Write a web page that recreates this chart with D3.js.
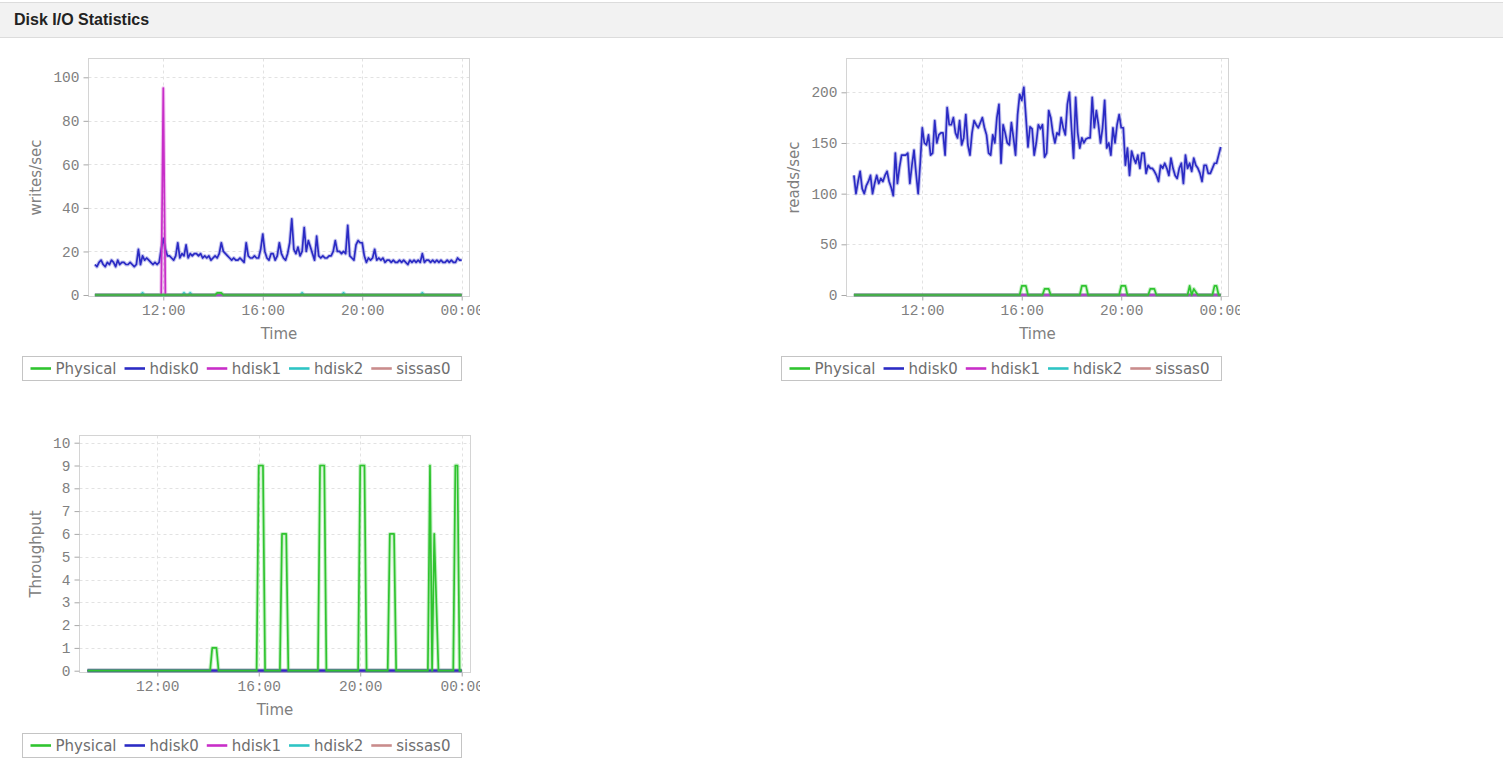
<!DOCTYPE html>
<html>
<head>
<meta charset="utf-8">
<title>Disk I/O Statistics</title>
<script src="https://cdn.jsdelivr.net/npm/d3@7"></script>
<style>
  body { margin: 0; background: #fff; }
  svg { display: block; }
</style>
</head>
<body>
<svg id="page" width="1503" height="775"></svg>
<script>
"use strict";

// samples every 5 minutes from 09:15 until midnight
const startTime = "09:15";
const stepMinutes = 5;
const seriesNames = ["Physical", "hdisk0", "hdisk1", "hdisk2", "sissas0"];
const timeTicks = ["12:00", "16:00", "20:00", "00:00"];

const writesTicks = [0, 20, 40, 60, 80, 100];
const readsTicks = [0, 50, 100, 150, 200];
const throughputTicks = [0, 1, 2, 3, 4, 5, 6, 7, 8, 9, 10];

// writes/sec, hdisk0 (one row per hour)
const writesHdisk0 = [
  14, 13, 15, 16, 14, 13, 15, 14, 16,
  15, 13, 16, 14, 15, 15, 14, 14, 15, 14, 13, 14,
  21, 14, 18, 16, 17, 16, 15, 14, 15, 14, 15, 21,
  26, 21, 18, 18, 17, 16, 18, 24, 17, 19, 18, 23,
  17, 19, 18, 19, 19, 18, 19, 17, 18, 17, 18, 16,
  17, 18, 17, 19, 24, 20, 19, 18, 17, 16, 17, 16,
  16, 17, 16, 15, 24, 18, 17, 17, 18, 17, 17, 21,
  28, 20, 17, 16, 19, 19, 16, 18, 24, 19, 17, 16,
  19, 24, 35, 21, 19, 22, 18, 20, 31, 20, 25, 22,
  19, 16, 27, 18, 17, 18, 17, 17, 18, 18, 20, 25,
  20, 20, 19, 20, 19, 32, 18, 17, 16, 23, 25, 24,
  24, 18, 15, 17, 16, 17, 21, 16, 17, 16, 17, 15,
  16, 16, 15, 16, 15, 15, 16, 15, 16, 15, 14, 16,
  15, 16, 15, 16, 15, 19, 15, 16, 16, 15, 16, 15,
  16, 15, 16, 15, 15, 16, 15, 16, 15, 15, 17, 16, 16
];
// sparse series: [time, value], every other sample is 0
const writesPhysical = [["14:10", 1], ["14:15", 1], ["14:20", 1]];
const writesHdisk1 = [["12:00", 95]];
const writesHdisk2 = [["11:10", 1], ["12:50", 1], ["13:05", 1], ["17:35", 1], ["19:15", 1], ["22:25", 1]];

// reads/sec, hdisk0
const readsHdisk0 = [
  118, 100, 112, 122, 105, 100, 108, 112, 118,
  100, 110, 118, 110, 115, 112, 118, 122, 112, 106, 98, 140,
  110, 126, 138, 138, 138, 140, 110, 128, 143, 120, 100, 130,
  165, 150, 148, 158, 138, 140, 172, 150, 158, 160, 160, 138,
  185, 168, 168, 175, 160, 155, 172, 148, 155, 178, 148, 138,
  160, 172, 168, 165, 170, 175, 165, 158, 140, 138, 158, 150,
  175, 188, 130, 168, 160, 150, 148, 170, 155, 138, 178, 198,
  192, 205, 176, 146, 166, 164, 138, 150, 168, 164, 168, 136,
  140, 182, 175, 160, 150, 160, 158, 175, 165, 158, 188, 200,
  165, 135, 195, 160, 145, 155, 150, 154, 155, 155, 195, 165,
  182, 168, 150, 165, 192, 145, 150, 138, 165, 150, 168, 178,
  165, 165, 128, 145, 118, 142, 135, 130, 138, 125, 140, 140,
  120, 128, 125, 125, 122, 118, 112, 128, 125, 130, 125, 118,
  135, 125, 118, 115, 125, 130, 110, 138, 125, 130, 122, 135,
  128, 125, 120, 112, 128, 128, 120, 120, 125, 130, 130, 138, 146
];
const readsPhysical = [
  ["16:00", 9], ["16:05", 9], ["16:10", 9],
  ["16:55", 6], ["17:00", 6], ["17:05", 6],
  ["18:25", 9], ["18:30", 9], ["18:35", 9],
  ["20:00", 9], ["20:05", 9], ["20:10", 9],
  ["21:10", 6], ["21:15", 6], ["21:20", 6],
  ["22:45", 9], ["22:55", 6], ["23:00", 3],
  ["23:45", 9], ["23:50", 9]
];

// Throughput, Physical
const throughputPhysical = [
  ["14:10", 1], ["14:15", 1], ["14:20", 1],
  ["16:00", 9], ["16:05", 9], ["16:10", 9],
  ["16:55", 6], ["17:00", 6], ["17:05", 6],
  ["18:25", 9], ["18:30", 9], ["18:35", 9],
  ["20:00", 9], ["20:05", 9], ["20:10", 9],
  ["21:10", 6], ["21:15", 6], ["21:20", 6],
  ["22:45", 9], ["22:55", 6], ["23:00", 3],
  ["23:45", 9], ["23:50", 9]
];

// ---- styles ----
const colors = {
  Physical: "#2fc42f",
  hdisk0: "#2b2bc4",
  hdisk1: "#c82ec8",
  hdisk2: "#2ec4c4",
  sissas0: "#c98c8c"
};
const tickFont = "'Liberation Mono', monospace";
const textFont = "'DejaVu Sans', sans-serif";

// ---- time helpers ----
const parseHM = d3.timeParse("%H:%M");
const t0 = parseHM(startTime);
function timeOf(hm) {
  let t = parseHM(hm);
  if (t < t0) t = d3.timeDay.offset(t, 1);
  return t;
}
const times = readsHdisk0.map((d, i) => d3.timeMinute.offset(t0, i * stepMinutes));
function expand(pairs) {
  const v = times.map(() => 0);
  pairs.forEach(([hm, val]) => {
    v[Math.round((timeOf(hm) - t0) / (stepMinutes * 60000))] = val;
  });
  return v;
}

const charts = [
  {
    yTitle: "writes/sec", ticks: writesTicks,
    series: { Physical: expand(writesPhysical), hdisk0: writesHdisk0, hdisk1: expand(writesHdisk1), hdisk2: expand(writesHdisk2), sissas0: expand([]) },
    order: ["sissas0", "hdisk2", "hdisk0", "hdisk1", "Physical"],
    box: { left: 88.5, right: 469.5, top: 58.5, bottom: 296.5 },
    xRange: [94.9, 461.7], yRange: [295, 77.3], clip: [20, 480],
    yTitleX: 41, legend: { x: 22.5, y: 356.5, w: 439, h: 24 }
  },
  {
    yTitle: "reads/sec", ticks: readsTicks,
    series: { Physical: expand(readsPhysical), hdisk0: readsHdisk0, hdisk1: expand([]), hdisk2: expand([]), sissas0: expand([]) },
    order: ["sissas0", "hdisk2", "hdisk0", "hdisk1", "Physical"],
    box: { left: 846.5, right: 1228.5, top: 58.5, bottom: 296.5 },
    xRange: [853.9, 1220.7], yRange: [295, 92.3], clip: [780, 1240],
    yTitleX: 799, legend: { x: 781.5, y: 356.5, w: 440, h: 24 }
  },
  {
    yTitle: "Throughput", ticks: throughputTicks,
    series: { Physical: expand(throughputPhysical), hdisk0: expand([]), hdisk1: expand([]), hdisk2: expand([]), sissas0: expand([]) },
    order: ["sissas0", "hdisk2", "hdisk1", "hdisk0", "Physical"],
    box: { left: 79.5, right: 470.5, top: 435.5, bottom: 672.5 },
    xRange: [87.5, 461.7], yRange: [670.7, 442.7], clip: [20, 480],
    yTitleX: 41, legend: { x: 22.5, y: 733.5, w: 439, h: 24 }
  }
];

const svg = d3.select("#page");
const defs = svg.append("defs");

// header band
svg.append("rect")
  .attr("x", -1).attr("y", 2.5).attr("width", 1505).attr("height", 35)
  .attr("fill", "#f2f2f2").attr("stroke", "#dcdcdc");
svg.append("text")
  .attr("x", 14).attr("y", 25)
  .attr("font-family", "'Liberation Sans', Arial, sans-serif")
  .attr("font-size", 16).attr("font-weight", "bold").attr("fill", "#222")
  .text("Disk I/O Statistics");

charts.forEach((c, ci) => {
  const b = c.box;

  defs.append("clipPath").attr("id", "clip" + ci)
    .append("rect")
    .attr("x", c.clip[0]).attr("y", b.top - 20)
    .attr("width", c.clip[1] - c.clip[0]).attr("height", b.bottom - b.top + 80);

  const g = svg.append("g").attr("clip-path", `url(#clip${ci})`);

  const x = d3.scaleTime().domain([t0, times[times.length - 1]]).range(c.xRange);
  const y = d3.scaleLinear().domain([0, c.ticks[c.ticks.length - 1]]).range(c.yRange);
  const xTicks = timeTicks.map(timeOf);

  // grid
  g.append("g").selectAll("line.h")
    .data(c.ticks.slice(1))
    .join("line")
    .attr("x1", b.left).attr("x2", b.right)
    .attr("y1", d => Math.round(y(d)) + 0.5).attr("y2", d => Math.round(y(d)) + 0.5)
    .attr("stroke", "#e2e2e2").attr("stroke-dasharray", "3,3");
  g.append("g").selectAll("line.v")
    .data(xTicks)
    .join("line")
    .attr("x1", d => Math.round(x(d)) + 0.5).attr("x2", d => Math.round(x(d)) + 0.5)
    .attr("y1", b.top).attr("y2", b.bottom)
    .attr("stroke", "#e2e2e2").attr("stroke-dasharray", "3,3");

  // frame
  g.append("rect")
    .attr("x", b.left).attr("y", b.top)
    .attr("width", b.right - b.left).attr("height", b.bottom - b.top)
    .attr("fill", "none").attr("stroke", "#d4d4d4");

  // axes
  const yAxis = g.append("g")
    .attr("transform", `translate(${b.left},0)`)
    .call(d3.axisLeft(y).tickValues(c.ticks).tickSize(5).tickPadding(4));
  const xAxis = g.append("g")
    .attr("transform", `translate(0,${b.bottom})`)
    .call(d3.axisBottom(x).tickValues(xTicks).tickFormat(d3.timeFormat("%H:%M")).tickSize(4).tickPadding(4));
  [yAxis, xAxis].forEach(a => {
    a.select(".domain").remove();
    a.selectAll(".tick line").attr("stroke", "#a8a8a8");
    a.selectAll(".tick text")
      .attr("font-family", tickFont).attr("font-size", 14.5).attr("fill", "#808080");
  });

  // series lines
  const line = d3.line()
    .x((d, i) => x(times[i]))
    .y(d => y(d));
  c.order.forEach(name => {
    const vals = c.series[name];
    g.append("path").datum(vals)
      .attr("d", line).attr("fill", "none")
      .attr("stroke", colors[name]).attr("stroke-width", 3.8)
      .attr("stroke-opacity", 0.28).attr("stroke-linejoin", "round");
    g.append("path").datum(vals)
      .attr("d", line).attr("fill", "none")
      .attr("stroke", colors[name]).attr("stroke-width", 1.7)
      .attr("stroke-linejoin", "round");
  });

  // axis titles
  g.append("text")
    .attr("x", (b.left + b.right) / 2).attr("y", b.bottom + 42)
    .attr("text-anchor", "middle")
    .attr("font-family", textFont).attr("font-size", 15).attr("fill", "#808080")
    .text("Time");
  g.append("text")
    .attr("transform", `translate(${c.yTitleX},${(b.top + b.bottom) / 2}) rotate(-90)`)
    .attr("text-anchor", "middle")
    .attr("font-family", textFont).attr("font-size", 15).attr("fill", "#808080")
    .text(c.yTitle);

  // legend
  const L = c.legend;
  const lg = svg.append("g");
  lg.append("rect")
    .attr("x", L.x).attr("y", L.y).attr("width", L.w).attr("height", L.h)
    .attr("fill", "#fff").attr("stroke", "#c4c4c4");
  let cx = L.x + 8;
  seriesNames.forEach(name => {
    lg.append("line")
      .attr("x1", cx).attr("x2", cx + 20.5)
      .attr("y1", L.y + 12).attr("y2", L.y + 12)
      .attr("stroke", colors[name]).attr("stroke-width", 2.6);
    const t = lg.append("text")
      .attr("x", cx + 25).attr("y", L.y + 17)
      .attr("font-family", textFont).attr("font-size", 15).attr("fill", "#6e6e6e")
      .text(name);
    cx += 25 + t.node().getComputedTextLength() + 8;
  });
});
</script>
</body>
</html>
